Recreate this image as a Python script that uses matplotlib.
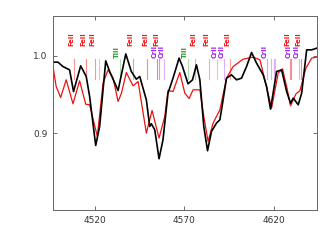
import numpy as np
import matplotlib
matplotlib.use('Agg')
import matplotlib.pyplot as plt

# observed spectrum (black)
obs_wave = [4496.7, 4499.5, 4502.3, 4506.0, 4508.2, 4512.2, 4515.3, 4517.2, 4520.6, 4522.8,
            4526.2, 4528.4, 4533.1, 4537.4, 4540.5, 4543.3, 4545.2, 4548.9, 4550.8, 4551.7,
            4553.6, 4556.0, 4558.2, 4561.0, 4563.8, 4567.2, 4569.1, 4572.2, 4574.7, 4576.9,
            4578.8, 4581.0, 4583.1, 4585.3, 4588.1, 4590.0, 4591.8, 4593.7, 4596.5, 4599.3,
            4602.1, 4604.9, 4607.7, 4610.5, 4614.2, 4616.1, 4618.3, 4621.7, 4624.5, 4627.3,
            4629.5, 4631.0, 4633.8, 4635.7, 4638.5, 4641.3, 4644.1]
obs_flux = [0.9914, 0.9914, 0.9858, 0.9815, 0.9536, 0.9867, 0.9730, 0.9472, 0.8841, 0.9086,
            0.9931, 0.9794, 0.9549, 1.0021, 0.9794, 0.9695, 0.9730, 0.9429, 0.9086, 0.9120,
            0.9043, 0.8670, 0.8914, 0.9515, 0.9708, 0.9966, 0.9858, 0.9635, 0.9687, 0.9880,
            0.9687, 0.9086, 0.8773, 0.9021, 0.9129, 0.9172, 0.9429, 0.9708, 0.9751, 0.9687,
            0.9708, 0.9858, 1.0039, 0.9901, 0.9751, 0.9601, 0.9309, 0.9794, 0.9815, 0.9536,
            0.9386, 0.9451, 0.9365, 0.9515, 1.0073, 1.0073, 1.0094]

# synthetic spectrum (red)
syn_wave = [4496.7, 4498.5, 4501.0, 4504.1, 4507.9, 4511.6, 4515.0, 4517.2, 4521.5, 4524.7,
            4527.5, 4530.3, 4533.1, 4535.0, 4537.7, 4541.5, 4544.3, 4548.9, 4552.1, 4556.0,
            4559.2, 4561.0, 4563.8, 4567.6, 4570.4, 4572.8, 4575.0, 4578.8, 4581.0, 4583.4,
            4586.2, 4590.0, 4593.7, 4597.4, 4603.0, 4608.6, 4612.4, 4615.1, 4618.9, 4622.6,
            4625.0, 4627.3, 4629.5, 4632.5, 4634.7, 4638.1, 4641.3, 4644.1]
syn_flux = [0.9858, 0.9601, 0.9459, 0.9687, 0.9378, 0.9674, 0.9373, 0.9365, 0.8957, 0.9644,
            0.9815, 0.9708, 0.9408, 0.9515, 0.9781, 0.9609, 0.9665, 0.9000, 0.9292, 0.8936,
            0.9215, 0.9549, 0.9536, 0.9781, 0.9515, 0.9446, 0.9558, 0.9558, 0.9215, 0.8893,
            0.9129, 0.9300, 0.9708, 0.9858, 0.9953, 0.9979, 0.9944, 0.9687, 0.9322, 0.9773,
            0.9828, 0.9601, 0.9352, 0.9506, 0.9545, 0.9837, 0.9966, 0.9979]

# line identifications
line_wave = [4508.3, 4515.3, 4520.2, 4522.6, 4534.0, 4541.5, 4549.5, 4555.0, 4555.9, 4558.7,
             4572.0, 4576.3, 4583.8, 4588.2, 4592.1, 4595.7, 4616.6, 4618.8, 4620.0, 4620.6,
             4629.3, 4630.0, 4634.1, 4635.3]
line_ion = ['FeII', 'FeII', 'FeII', 'FeII', 'TiII', 'FeII', 'FeII', 'CrII', 'FeII', 'CrII',
            'TiII', 'FeII', 'FeII', 'CrII', 'CrII', 'FeII', 'CrII', 'CrII', 'CrII', 'FeII',
            'FeII', 'CrII', 'CrII', 'FeII']
line_label = [1, 1, 1, 0, 1, 1, 1, 1, 1, 1,
              1, 1, 1, 1, 1, 1, 1, 0, 0, 0,
              1, 1, 1, 1]
line_alpha = [0.45, 0.5, 0.45, 0.3, 0.35, 0.45, 0.5, 0.55, 0.45, 0.35,
              0.35, 0.4, 0.35, 0.3, 0.35, 0.4, 0.4, 0.35, 0.35, 0.3,
              0.45, 0.5, 0.35, 0.5]

colors = {'FeII': '#ff1010', 'CrII': '#a020f0', 'TiII': '#20a020'}
label_y = {'FeII': 1.0125, 'CrII': 0.9965, 'TiII': 0.9965}

fig = plt.figure(figsize=(3.33, 2.45), dpi=100)
ax = fig.add_axes([0.159, 0.143, 0.792, 0.792])

for w, ion, lab, a in zip(line_wave, line_ion, line_label, line_alpha):
    ax.plot([w, w], [0.970, 0.995], color=colors[ion], lw=0.8, alpha=a, zorder=1)
    if lab:
        ax.text(w + 0.3, label_y[ion], ion, rotation=90, ha='right', va='bottom',
                fontsize=4.8, fontweight='bold', color=colors[ion], zorder=3)

ax.plot(syn_wave, syn_flux, color='#ee1111', lw=0.9, zorder=2)
ax.plot(obs_wave, obs_flux, color='black', lw=1.2, zorder=2)

ax.set_xlim(4496.7, 4644.1)
ax.set_ylim(0.801, 1.051)
ax.set_xticks([4520, 4570, 4620])
ax.set_yticks([0.9, 1.0])
ax.set_yticklabels(['0.9', '1.0'])
ax.tick_params(direction='in', top=True, right=True, length=3, width=0.6,
               labelsize=6.5, colors='#555555', labelcolor='#333333', pad=4)
for s in ax.spines.values():
    s.set_color('#666666')
    s.set_linewidth(0.7)

fig.savefig('out.png', dpi=100)
